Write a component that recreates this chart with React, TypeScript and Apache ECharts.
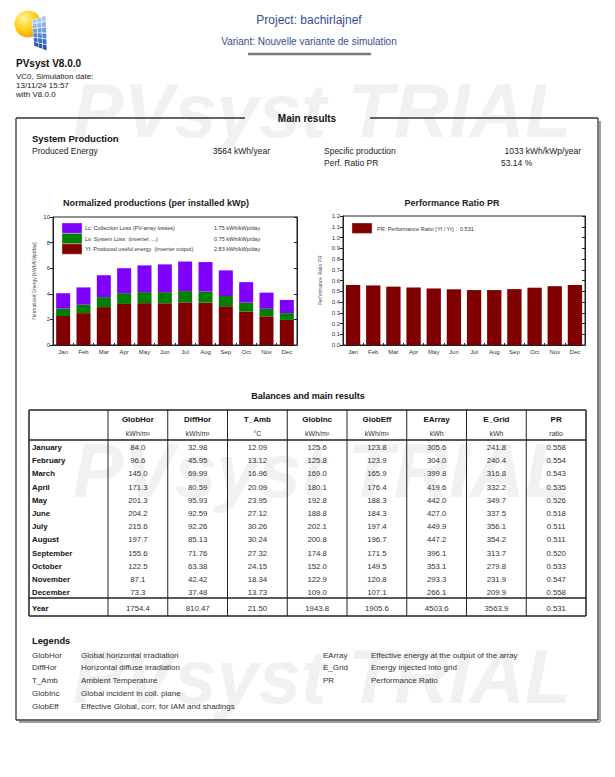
import React, { useEffect, useRef } from "react";
import * as echarts from "echarts";

const FONT = '"Liberation Sans", Arial, sans-serif';

// chart data (per month)
const months = ["Jan", "Feb", "Mar", "Apr", "May", "Jun", "Jul", "Aug", "Sep", "Oct", "Nov", "Dec"];
const yfDaily = [2.26, 2.49, 2.96, 3.21, 3.27, 3.26, 3.33, 3.31, 3.03, 2.62, 2.24, 1.96];
const lsDaily = [0.6, 0.66, 0.78, 0.84, 0.86, 0.87, 0.88, 0.87, 0.8, 0.69, 0.59, 0.53];
const lcDaily = [1.19, 1.35, 1.71, 1.95, 2.09, 2.17, 2.31, 2.3, 2.0, 1.6, 1.26, 1.03];
const prMonthly = [0.558, 0.554, 0.543, 0.535, 0.526, 0.518, 0.511, 0.511, 0.52, 0.533, 0.547, 0.558];

// balances table
const monthNames = ["January", "February", "March", "April", "May", "June", "July", "August", "September", "October", "November", "December"];
const colNames = ["GlobHor", "DiffHor", "T_Amb", "GlobInc", "GlobEff", "EArray", "E_Grid", "PR"];
const colUnits = ["kWh/m²", "kWh/m²", "°C", "kWh/m²", "kWh/m²", "kWh", "kWh", "ratio"];
const colDecimals = [1, 2, 2, 1, 1, 1, 1, 3];
const globHor = [84.0, 96.6, 145.0, 171.3, 201.3, 204.2, 215.6, 197.7, 155.6, 122.5, 87.1, 73.3];
const diffHor = [32.98, 45.95, 69.99, 80.59, 95.93, 92.59, 92.26, 85.13, 71.76, 63.38, 42.42, 37.48];
const tAmb = [12.09, 13.12, 16.96, 20.09, 23.95, 27.12, 30.26, 30.24, 27.32, 24.15, 18.34, 13.73];
const globInc = [125.6, 125.8, 169.0, 180.1, 192.8, 188.8, 202.1, 200.8, 174.8, 152.0, 122.9, 109.0];
const globEff = [123.8, 123.9, 165.9, 176.4, 188.3, 184.3, 197.4, 196.7, 171.5, 149.5, 120.8, 107.1];
const eArray = [305.6, 304.0, 399.8, 419.6, 442.0, 427.0, 449.9, 447.2, 396.1, 353.1, 293.3, 266.1];
const eGrid = [241.8, 240.4, 316.8, 332.2, 349.7, 337.5, 356.1, 354.2, 313.7, 279.8, 231.9, 209.9];
const prTable = [0.558, 0.554, 0.543, 0.535, 0.526, 0.518, 0.511, 0.511, 0.52, 0.533, 0.547, 0.558];
const yearRow = [1754.4, 810.47, 21.5, 1943.8, 1905.6, 4503.6, 3563.9, 0.531];

const normLegend = [
  { label: "Lc: Collection Loss (PV-array losses)", value: "1.75 kWh/kWp/day", color: "#8000ff" },
  { label: "Ls: System Loss  (inverter, ...)", value: "0.75 kWh/kWp/day", color: "#008000" },
  { label: "Yf: Produced useful energy  (inverter output)", value: "2.83 kWh/kWp/day", color: "#800000" },
];
const legendLeft = [
  ["GlobHor", "Global horizontal irradiation"],
  ["DiffHor", "Horizontal diffuse irradiation"],
  ["T_Amb", "Ambient Temperature"],
  ["GlobInc", "Global incident in coll. plane"],
  ["GlobEff", "Effective Global, corr. for IAM and shadings"],
];
const legendRight = [
  ["EArray", "Effective energy at the output of the array"],
  ["E_Grid", "Energy injected into grid"],
  ["PR", "Performance Ratio"],
];

function txt(x: number, y: number, text: string, o: any = {}) {
  return {
    type: "text",
    x,
    y,
    silent: true,
    z: o.z ?? 10,
    style: {
      text,
      fill: o.fill ?? "#222",
      fontSize: o.size ?? 8,
      fontWeight: o.bold ? "bold" : "normal",
      fontStyle: o.italic ? "italic" : "normal",
      fontFamily: FONT,
      textAlign: o.align ?? "left",
      textVerticalAlign: "middle",
    },
  };
}
function ln(x1: number, y1: number, x2: number, y2: number, w = 1, c = "#222") {
  return { type: "line", silent: true, z: 10, shape: { x1, y1, x2, y2 }, style: { stroke: c, lineWidth: w } };
}

function buildGraphic() {
  const g: any[] = [];
  // watermarks
  [110, 470, 676].forEach((y) =>
    g.push(txt(322, y, "PVsyst TRIAL", { size: 76, bold: true, italic: true, fill: "#f1f1f1", align: "center", z: -50 }))
  );

  // logo: sun + panel
  g.push({
    type: "circle",
    silent: true,
    shape: { cx: 28, cy: 24, r: 13.5 },
    style: {
      fill: new echarts.graphic.RadialGradient(0.35, 0.3, 0.8, [
        { offset: 0, color: "#fff3a0" },
        { offset: 0.5, color: "#ffd21a" },
        { offset: 1, color: "#f29a00" },
      ]),
    },
  });
  const TL = [32, 20], TR = [46, 15], BR = [47, 51], BL = [34, 46];
  const P = (u: number, v: number) => [
    TL[0] * (1 - u) * (1 - v) + TR[0] * u * (1 - v) + BR[0] * u * v + BL[0] * (1 - u) * v,
    TL[1] * (1 - u) * (1 - v) + TR[1] * u * (1 - v) + BR[1] * u * v + BL[1] * (1 - u) * v,
  ];
  g.push({ type: "polygon", silent: true, shape: { points: [TL, TR, BR, BL] }, style: { fill: "#ffffff" } });
  const pRows = 6, pCols = 3, gap = 0.07;
  const shades = ["#a9cbf3", "#8ab5ea", "#6c9de0", "#4f84d2", "#3a6fc0", "#2b5aa8"];
  for (let r = 0; r < pRows; r++) {
    for (let c = 0; c < pCols; c++) {
      const u0 = c / pCols + gap / pCols, u1 = (c + 1) / pCols - gap / pCols;
      const v0 = r / pRows + gap / pRows, v1 = (r + 1) / pRows - gap / pRows;
      g.push({
        type: "polygon",
        silent: true,
        shape: { points: [P(u0, v0), P(u1, v0), P(u1, v1), P(u0, v1)] },
        style: { fill: shades[r] },
      });
    }
  }

  // header
  g.push(txt(309, 20, "Project: bachirlajnef", { size: 12, fill: "#3a4b9a", align: "center" }));
  g.push(txt(309, 41, "Variant: Nouvelle variante de simulation", { size: 10, fill: "#3a4b9a", align: "center" }));
  g.push(ln(248, 54, 371, 54, 2.5, "#7a7a7a"));
  g.push(txt(16, 63, "PVsyst V8.0.0", { size: 10, bold: true, fill: "#111" }));
  g.push(txt(16, 76, "VC0, Simulation date:", { size: 8, fill: "#222" }));
  g.push(txt(16, 85, "13/11/24 15:57", { size: 8, fill: "#222" }));
  g.push(txt(16, 94, "with V8.0.0", { size: 8, fill: "#222" }));

  // main box
  g.push(ln(19, 722, 600, 722, 2, "#a0a0a0"));
  g.push(ln(600, 121, 600, 722, 2, "#a0a0a0"));
  g.push(ln(16, 118, 245, 118, 1.3, "#333"));
  g.push(ln(370, 118, 598, 118, 1.3, "#333"));
  g.push(ln(16, 118, 16, 720, 1.3, "#333"));
  g.push(ln(598, 118, 598, 720, 1.3, "#333"));
  g.push(ln(16, 720, 598, 720, 1.3, "#333"));
  g.push(txt(307, 118, "Main results", { size: 10, bold: true, fill: "#111", align: "center" }));

  // system production
  g.push(txt(32, 138, "System Production", { size: 9.5, bold: true, fill: "#111" }));
  g.push(txt(32, 151, "Produced Energy", { size: 8.5 }));
  g.push(txt(270, 151, "3564 kWh/year", { size: 8.5, align: "right" }));
  g.push(txt(324, 151, "Specific production", { size: 8.5 }));
  g.push(txt(581, 151, "1033 kWh/kWp/year", { size: 8.5, align: "right" }));
  g.push(txt(324, 163, "Perf. Ratio PR", { size: 8.5 }));
  g.push(txt(501, 163, "53.14 %", { size: 8.5 }));

  // chart titles
  g.push(txt(156, 203, "Normalized productions (per installed kWp)", { size: 9, bold: true, fill: "#1a1a2a", align: "center" }));
  g.push(txt(452, 203, "Performance Ratio PR", { size: 9, bold: true, fill: "#1a1a2a", align: "center" }));

  // chart legends
  normLegend.forEach((l, i) => {
    const y = 223 + i * 10.4;
    g.push({ type: "rect", silent: true, z: 20, shape: { x: 62, y, width: 20, height: 10.4 }, style: { fill: l.color, stroke: "#ddd", lineWidth: 0.4 } });
    g.push(txt(85, y + 5.4, l.label, { size: 5.5, fill: "#333", z: 20 }));
    g.push(txt(214, y + 5.4, l.value, { size: 5.5, fill: "#333", z: 20 }));
  });
  g.push({ type: "rect", silent: true, z: 20, shape: { x: 352, y: 223, width: 20, height: 10.4 }, style: { fill: "#800000", stroke: "#ddd", lineWidth: 0.4 } });
  g.push(txt(377, 228.6, "PR: Performance Ratio (Yf / Yr) :  0.531", { size: 5.5, fill: "#333", z: 20 }));

  // balances table
  g.push(txt(308, 396, "Balances and main results", { size: 9, bold: true, fill: "#111", align: "center" }));
  const tL = 29, tR = 586, tT = 410, tB = 616, c0 = 108, cw = (tR - c0) / 8;
  g.push(ln(tL, tT, tR, tT, 1.5));
  g.push(ln(tL, tB, tR, tB, 1.5));
  g.push(ln(tL, tT, tL, tB, 1.5));
  g.push(ln(tR, tT, tR, tB, 1.5));
  g.push(ln(tL, 440, tR, 440, 1.5));
  g.push(ln(tL, 598, tR, 598, 1.5));
  for (let k = 0; k < 8; k++) g.push(ln(c0 + cw * k, tT, c0 + cw * k, tB, 1));
  const tableCols = [globHor, diffHor, tAmb, globInc, globEff, eArray, eGrid, prTable];
  colNames.forEach((n, k) => {
    const cx = c0 + cw * (k + 0.5);
    g.push(txt(cx, 419, n, { size: 8, bold: true, fill: "#111", align: "center" }));
    g.push(txt(cx, 433, colUnits[k], { size: 7, fill: "#333", align: "center" }));
    tableCols[k].forEach((v, i) => g.push(txt(cx, 447.5 + 13.2 * i, v.toFixed(colDecimals[k]), { size: 7.8, fill: "#333", align: "center" })));
    g.push(txt(cx, 608, yearRow[k].toFixed(colDecimals[k]), { size: 7.8, fill: "#333", align: "center" }));
  });
  monthNames.forEach((m, i) => g.push(txt(32, 447.5 + 13.2 * i, m, { size: 7.8, bold: true, fill: "#111" })));
  g.push(txt(32, 608, "Year", { size: 7.8, bold: true, fill: "#111" }));

  // legends
  g.push(txt(32, 641, "Legends", { size: 9.3, bold: true, fill: "#111" }));
  legendLeft.forEach(([a, d], i) => {
    g.push(txt(32, 655 + 12.8 * i, a, { size: 8, fill: "#333" }));
    g.push(txt(81, 655 + 12.8 * i, d, { size: 8, fill: "#333" }));
  });
  legendRight.forEach(([a, d], i) => {
    g.push(txt(323, 655 + 12.8 * i, a, { size: 8, fill: "#333" }));
    g.push(txt(371, 655 + 12.8 * i, d, { size: 8, fill: "#333" }));
  });
  return g;
}

function buildOption() {
  const axisLab = { fontSize: 6, color: "#333", fontFamily: FONT };
  const frame = { lineStyle: { color: "#222", width: 1 } };
  const xAx = (gi: number) => ({
    gridIndex: gi,
    type: "category",
    data: months,
    axisLine: frame,
    axisTick: { show: true, inside: true, length: 2, lineStyle: { color: "#222" } },
    axisLabel: { ...axisLab, margin: 4, interval: 0 },
  });
  return {
    animation: false,
    backgroundColor: "#ffffff",
    textStyle: { fontFamily: FONT },
    grid: [
      { left: 53, top: 217, width: 244, height: 128, show: true, borderColor: "#222", borderWidth: 1 },
      { left: 343, top: 216, width: 242, height: 129, show: true, borderColor: "#222", borderWidth: 1 },
    ],
    xAxis: [xAx(0), xAx(1)],
    yAxis: [
      {
        gridIndex: 0, type: "value", min: 0, max: 10, interval: 2,
        axisLine: { show: true, ...frame },
        axisTick: { show: true, length: 3, lineStyle: { color: "#222" } },
        axisLabel: { ...axisLab, margin: 3 },
        splitLine: { show: false },
        name: "Normalized Energy [kWh/kWp/day]", nameLocation: "middle", nameGap: 17,
        nameTextStyle: { fontSize: 5, color: "#555", fontFamily: FONT },
      },
      {
        gridIndex: 0, type: "value", position: "right", min: 0, max: 10, interval: 2,
        axisLine: { show: true, ...frame },
        axisTick: { show: true, inside: true, length: 3, lineStyle: { color: "#222" } },
        axisLabel: { show: false }, splitLine: { show: false },
      },
      {
        gridIndex: 1, type: "value", min: 0, max: 1.2, interval: 0.1,
        axisLine: { show: true, ...frame },
        axisTick: { show: true, length: 3, lineStyle: { color: "#222" } },
        axisLabel: { ...axisLab, margin: 3, formatter: (v: number) => v.toFixed(1) },
        splitLine: { show: false },
        name: "Performance Ratio PR", nameLocation: "middle", nameGap: 21,
        nameTextStyle: { fontSize: 5, color: "#555", fontFamily: FONT },
      },
      {
        gridIndex: 1, type: "value", position: "right", min: 0, max: 1.2, interval: 0.1,
        axisLine: { show: true, ...frame },
        axisTick: { show: true, inside: true, length: 3, lineStyle: { color: "#222" } },
        axisLabel: { show: false }, splitLine: { show: false },
      },
    ],
    series: [
      { type: "bar", name: "Yf", xAxisIndex: 0, yAxisIndex: 0, stack: "np", data: yfDaily, barWidth: "69%", itemStyle: { color: "#800000" } },
      { type: "bar", name: "Ls", xAxisIndex: 0, yAxisIndex: 0, stack: "np", data: lsDaily, barWidth: "69%", itemStyle: { color: "#008000" } },
      { type: "bar", name: "Lc", xAxisIndex: 0, yAxisIndex: 0, stack: "np", data: lcDaily, barWidth: "69%", itemStyle: { color: "#8000ff" } },
      { type: "bar", name: "PR", xAxisIndex: 1, yAxisIndex: 2, data: prMonthly, barWidth: "71%", itemStyle: { color: "#800000" } },
    ],
    graphic: { elements: buildGraphic() },
  };
}

export default function App() {
  const ref = useRef<HTMLDivElement | null>(null);

  useEffect(() => {
    const chart = echarts.init(ref.current!, null, { renderer: "svg" });
    chart.setOption(buildOption() as any);
    return () => chart.dispose();
  }, []);

  return <div ref={ref} style={{ position: "absolute", left: 0, top: 0, width: 615, height: 777 }} />;
}
